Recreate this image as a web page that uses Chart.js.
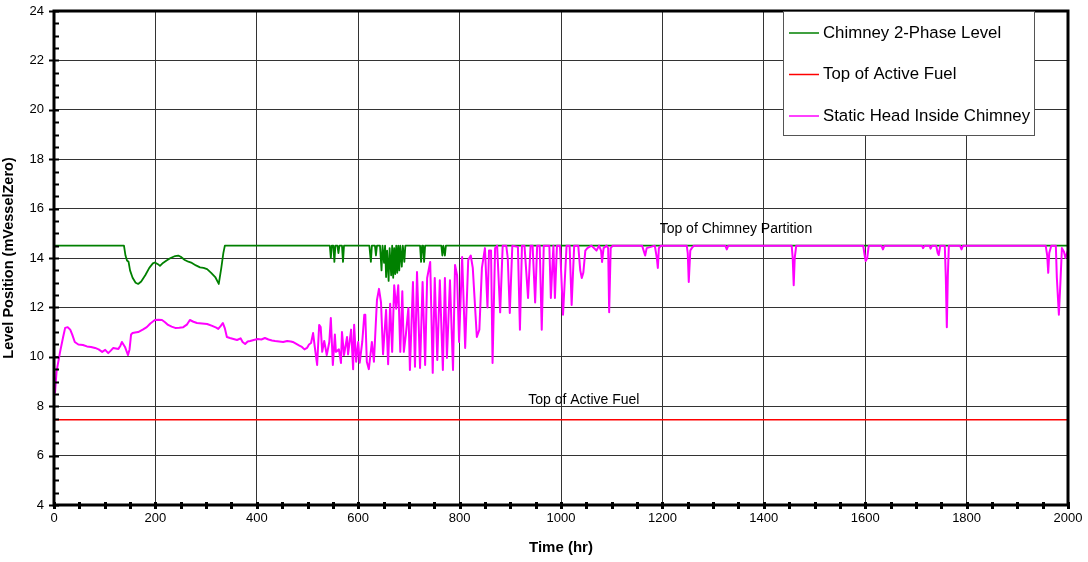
<!DOCTYPE html>
<html>
<head>
<meta charset="utf-8">
<title>Level Position</title>
<script src="https://cdn.jsdelivr.net/npm/chart.js@4.4.0/dist/chart.umd.min.js"></script>
<style>
    html, body { margin: 0; padding: 0; background: #fff; }
    #grafico { display: block; }
</style>
</head>
<body>
<canvas id="grafico" width="1088" height="562"></canvas>
<script>
// ===== DADOS =====
const RED_T = [0, 2000];
const RED_V = [7.45, 7.45];

const GREEN_T = [
    0, 138, 141, 144, 147, 150, 155, 161, 166, 172, 180, 188, 195, 199, 205, 209, 215, 222, 230, 239,
    245, 250, 258, 265, 272, 280, 288, 295, 302, 310, 318, 325, 330, 334, 337,
    544, 546, 548, 551, 553, 555, 559, 561, 563, 568, 570, 572,
    622, 625, 627, 633, 635, 637, 643, 646, 648, 651, 653, 655, 657, 660, 662, 665, 667, 669, 671,
    673, 675, 677, 679, 681, 683, 686, 688, 691, 693,
    722, 724, 726, 728, 730, 732, 764, 766, 768, 769, 771, 773, 2000
];
const GREEN_V = [
    14.5, 14.5, 14.1, 13.9, 13.85, 13.5, 13.2, 13.0, 12.95, 13.05, 13.3, 13.6, 13.78, 13.82, 13.75, 13.68, 13.8, 13.9, 14.0, 14.08,
    14.1, 14.05, 13.92, 13.85, 13.8, 13.7, 13.62, 13.6, 13.55, 13.4, 13.23, 12.95, 13.6, 14.2, 14.5,
    14.5, 14.0, 14.5, 14.5, 13.84, 14.5, 14.5, 14.2, 14.5, 14.5, 13.84, 14.5,
    14.5, 13.84, 14.5, 14.5, 14.1, 14.5, 14.5, 13.5, 14.5, 13.8, 14.5, 13.23, 14.3, 13.07, 14.4, 13.3, 14.5, 13.2, 14.4,
    13.35, 14.5, 13.4, 14.5, 13.5, 14.5, 13.65, 14.5, 13.84, 14.5,
    14.5, 13.84, 14.5, 14.5, 13.84, 14.5, 14.5, 14.1, 14.5, 14.5, 14.1, 14.5, 14.5
];

const MAG_T = [
    0, 2, 5, 12, 18, 22, 27, 32, 36, 41, 48, 57, 65, 73, 81, 88, 95, 101, 107, 112,
    117, 122, 127, 131, 134, 137, 140, 146, 149, 152, 155, 160, 166, 175, 183, 190, 199, 206, 213, 219,
    225, 232, 239, 247, 255, 262, 268, 275, 282, 292, 302, 312, 320, 324, 329, 333, 337, 341, 347, 354,
    361, 368, 372, 377, 382, 387, 394, 402, 409, 416, 423, 430, 436, 444, 452, 460, 467, 471, 478, 484,
    489, 494, 499, 503, 507, 511, 515, 519, 523, 526, 529, 533, 538, 543, 546, 550, 554, 556, 562, 566,
    568, 572, 578, 580, 586, 590, 592, 596, 600, 603, 608, 612, 614, 617, 621, 627, 631, 637, 641, 645,
    649, 655, 659, 663, 667, 671, 675, 679, 683, 687, 690, 694, 699, 702, 708, 712, 716, 722, 727, 732,
    736, 742, 747, 751, 756, 761, 767, 771, 775, 781, 787, 791, 795, 799, 805, 811, 817, 822, 826, 834,
    839, 844, 850, 855, 858, 862, 865, 870, 874, 880, 885, 892, 895, 899, 904, 915, 919, 923, 928, 935,
    940, 944, 949, 953, 958, 962, 966, 977, 980, 985, 988, 992, 998, 1004, 1011, 1017, 1021, 1026, 1034, 1038,
    1041, 1044, 1048, 1052, 1060, 1070, 1075, 1079, 1081, 1084, 1090, 1093, 1095, 1098, 1102, 1160, 1163, 1166, 1169, 1185,
    1189, 1191, 1193, 1197, 1248, 1250, 1252, 1255, 1258, 1262, 1324, 1327, 1330, 1455, 1457, 1459, 1461, 1464, 1596, 1599,
    1601, 1604, 1607, 1632, 1635, 1638, 1712, 1714, 1717, 1727, 1729, 1732, 1740, 1743, 1745, 1748, 1757, 1759, 1761, 1763,
    1765, 1787, 1790, 1793, 1956, 1959, 1961, 1963, 1967, 1976, 1978, 1982, 1985, 1988, 1992, 1995, 1998, 2000
];
const MAG_V = [
    8.6, 8.55, 9.4, 10.2, 10.8, 11.17, 11.2, 11.1, 10.9, 10.6, 10.5, 10.48, 10.42, 10.4, 10.36, 10.3, 10.2, 10.28, 10.15, 10.25,
    10.36, 10.34, 10.32, 10.45, 10.6, 10.5, 10.4, 10.07, 10.3, 10.9, 10.96, 10.98, 11.0, 11.1, 11.2, 11.35, 11.49, 11.5, 11.49, 11.4,
    11.29, 11.22, 11.17, 11.18, 11.2, 11.3, 11.49, 11.42, 11.37, 11.35, 11.33, 11.25, 11.18, 11.13, 11.25, 11.37, 11.15, 10.8, 10.76, 10.72,
    10.68, 10.75, 10.6, 10.52, 10.62, 10.64, 10.68, 10.72, 10.7, 10.76, 10.7, 10.66, 10.64, 10.62, 10.6, 10.64, 10.62, 10.6, 10.52, 10.45,
    10.4, 10.3, 10.36, 10.5, 10.56, 10.96, 10.3, 9.67, 11.29, 11.2, 10.2, 10.64, 10.07, 10.6, 11.57, 9.67, 10.9, 10.2, 10.3, 9.75,
    11.0, 10.07, 10.8, 10.1, 11.1, 9.5, 11.3, 9.8, 10.6, 9.76, 10.6, 11.7, 11.7, 9.8, 9.5, 10.6, 9.8, 12.3, 12.75, 12.2,
    10.1, 11.9, 9.7, 12.15, 10.2, 12.9, 11.95, 12.9, 10.2, 12.65, 10.2, 10.9, 11.98, 9.47, 13.03, 9.6, 13.43, 9.55, 13.03, 9.67,
    13.19, 13.84, 9.35, 13.19, 9.87, 13.1, 9.47, 13.19, 9.95, 13.1, 9.47, 13.72, 13.3, 10.6, 14.04, 10.36, 13.92, 14.1, 13.6, 10.8,
    11.1, 13.6, 14.4, 12.0, 14.3, 14.3, 9.75, 14.4, 14.5, 11.8, 14.5, 14.5, 14.0, 11.77, 14.5, 14.45, 11.1, 14.5, 14.5, 12.38,
    14.5, 14.5, 12.2, 14.5, 14.5, 11.1, 14.5, 14.5, 12.38, 14.5, 12.38, 14.5, 14.5, 11.7, 14.5, 14.5, 12.1, 14.5, 14.5, 13.5,
    13.19, 13.4, 14.3, 14.4, 14.5, 14.3, 14.5, 14.3, 13.84, 14.4, 14.5, 14.4, 11.8, 14.4, 14.5, 14.5, 14.3, 14.1, 14.4, 14.5,
    14.0, 13.6, 14.4, 14.5, 14.5, 14.2, 13.03, 14.3, 14.4, 14.5, 14.5, 14.35, 14.5, 14.5, 14.0, 12.9, 14.0, 14.5, 14.5, 14.1,
    13.88, 14.0, 14.5, 14.5, 14.35, 14.5, 14.5, 14.4, 14.5, 14.5, 14.38, 14.5, 14.5, 14.2, 14.12, 14.5, 14.5, 13.2, 11.2, 13.3,
    14.5, 14.5, 14.35, 14.5, 14.5, 14.1, 13.4, 14.2, 14.5, 14.5, 13.2, 11.7, 13.0, 14.4, 14.25, 14.0, 14.2, 14.3
];

const SERIES = [
    { label: 'Chimney 2-Phase Level',        cor: '#008000', t: GREEN_T, v: GREEN_V, w: 1.8 },
    { label: 'Top of Active Fuel',           cor: '#ff0000', t: RED_T,   v: RED_V,   w: 1.6 },
    { label: 'Static Head Inside Chimney',   cor: '#ff00ff', t: MAG_T,   v: MAG_V,   w: 2 },
];

// ===== ANOTAÇÕES =====
const NOTAS = [
    { texto: 'Top of Chimney Partition', t: 1345, v: 15.17 },
    { texto: 'Top of Active Fuel',       t: 1045, v: 8.25 },
];

const FONTE = '"Liberation Sans", Arial, sans-serif';

// ===== PLUGINS =====
const fundoBranco = {
    id: 'fundoBranco',
    beforeDraw(chart) {
        const ctx = chart.ctx;
        ctx.save();
        ctx.fillStyle = '#fff';
        ctx.fillRect(0, 0, chart.width, chart.height);
        ctx.restore();
    }
};

const extras = {
    id: 'extras',
    afterDraw(chart) {
        const ctx = chart.ctx;
        const a   = chart.chartArea;
        const sx  = chart.scales.x;
        const sy  = chart.scales.y;
        ctx.save();

        // borda grossa
        ctx.strokeStyle = '#000';
        ctx.lineWidth = 3;
        ctx.strokeRect(a.left, a.top, a.right - a.left, a.bottom - a.top);

        // ticks menores Y
        ctx.lineWidth = 2;
        for (let v = 4; v <= 24; v += 0.5) {
            const y = Math.round(sy.getPixelForValue(v)) + 0.5;
            const major = v % 2 === 0;
            ctx.beginPath();
            ctx.moveTo(a.left - (major ? 5 : 0), y);
            ctx.lineTo(a.left + 5, y);
            ctx.stroke();
        }
        // ticks menores X
        ctx.lineWidth = 3;
        for (let t = 0; t <= 2000; t += 50) {
            const x = Math.round(sx.getPixelForValue(t)) + 0.5;
            ctx.beginPath();
            ctx.moveTo(x, a.bottom - 3);
            ctx.lineTo(x, a.bottom + 4);
            ctx.stroke();
        }

        // textos
        ctx.fillStyle = '#000';
        ctx.font = '14px ' + FONTE;
        ctx.textAlign = 'center';
        ctx.textBaseline = 'middle';
        NOTAS.forEach(n => ctx.fillText(n.texto, sx.getPixelForValue(n.t), sy.getPixelForValue(n.v)));

        // legenda
        const lx = 783, ly = a.top, lw = 251, lh = 124;
        ctx.fillStyle = '#fff';
        ctx.fillRect(lx, ly, lw, lh);
        ctx.strokeStyle = '#555';
        ctx.lineWidth = 1;
        ctx.strokeRect(lx + 0.5, ly + 0.5, lw, lh);
        ctx.font = '16.8px ' + FONTE;
        ctx.textAlign = 'left';
        SERIES.forEach((s, i) => {
            const y = 33 + i * 41.5;
            ctx.strokeStyle = s.cor;
            ctx.lineWidth = 1.5;
            ctx.beginPath();
            ctx.moveTo(789, y);
            ctx.lineTo(819, y);
            ctx.stroke();
            ctx.fillStyle = '#000';
            ctx.fillText(s.label, 823, y);
        });
        ctx.restore();
    }
};

// ===== GRÁFICO =====
new Chart(document.getElementById('grafico').getContext('2d'), {
    type: 'line',
    data: {
        datasets: SERIES.map((s, i) => ({
            label:           s.label,
            data:            s.t.map((t, k) => ({ x: t, y: s.v[k] })),
            borderColor:     s.cor,
            borderWidth:     s.w,
            borderJoinStyle: 'round',
            borderCapStyle:  'round',
            pointRadius:     0,
            tension:         0,
            fill:            false,
            order:           i === 2 ? 0 : i + 1,
        }))
    },
    options: {
        responsive: false,
        animation: false,
        events: [],
        layout: { padding: { top: 11, right: 20, left: 0, bottom: 0 } },
        plugins: { legend: { display: false }, tooltip: { enabled: false } },
        scales: {
            x: {
                type: 'linear',
                min: 0, max: 2000,
                afterFit: s => { s.height = 57; s.paddingLeft = 0; s.paddingRight = 0; },
                ticks: { stepSize: 200, padding: 6, color: '#000', callback: v => String(v),
                         font: { family: FONTE, size: 13 } },
                grid: { color: '#333', lineWidth: 1, drawTicks: false },
                border: { display: false },
                title: { display: true, text: 'Time (hr)', color: '#000', padding: { top: 0, bottom: 5 },
                         font: { family: FONTE, size: 15, weight: 'bold' } }
            },
            y: {
                min: 4, max: 24,
                afterFit: s => { s.width = 54; s.paddingTop = 0; s.paddingBottom = 0; },
                ticks: { stepSize: 2, padding: 10, color: '#000', font: { family: FONTE, size: 13 } },
                grid: { color: '#333', lineWidth: 1, drawTicks: false },
                border: { display: false },
                title: { display: true, text: 'Level Position (mVesselZero)', color: '#000', padding: { top: 0, bottom: 8 },
                         font: { family: FONTE, size: 14.5, weight: 'bold' } }
            }
        }
    },
    plugins: [fundoBranco, extras]
});
</script>
</body>
</html>
